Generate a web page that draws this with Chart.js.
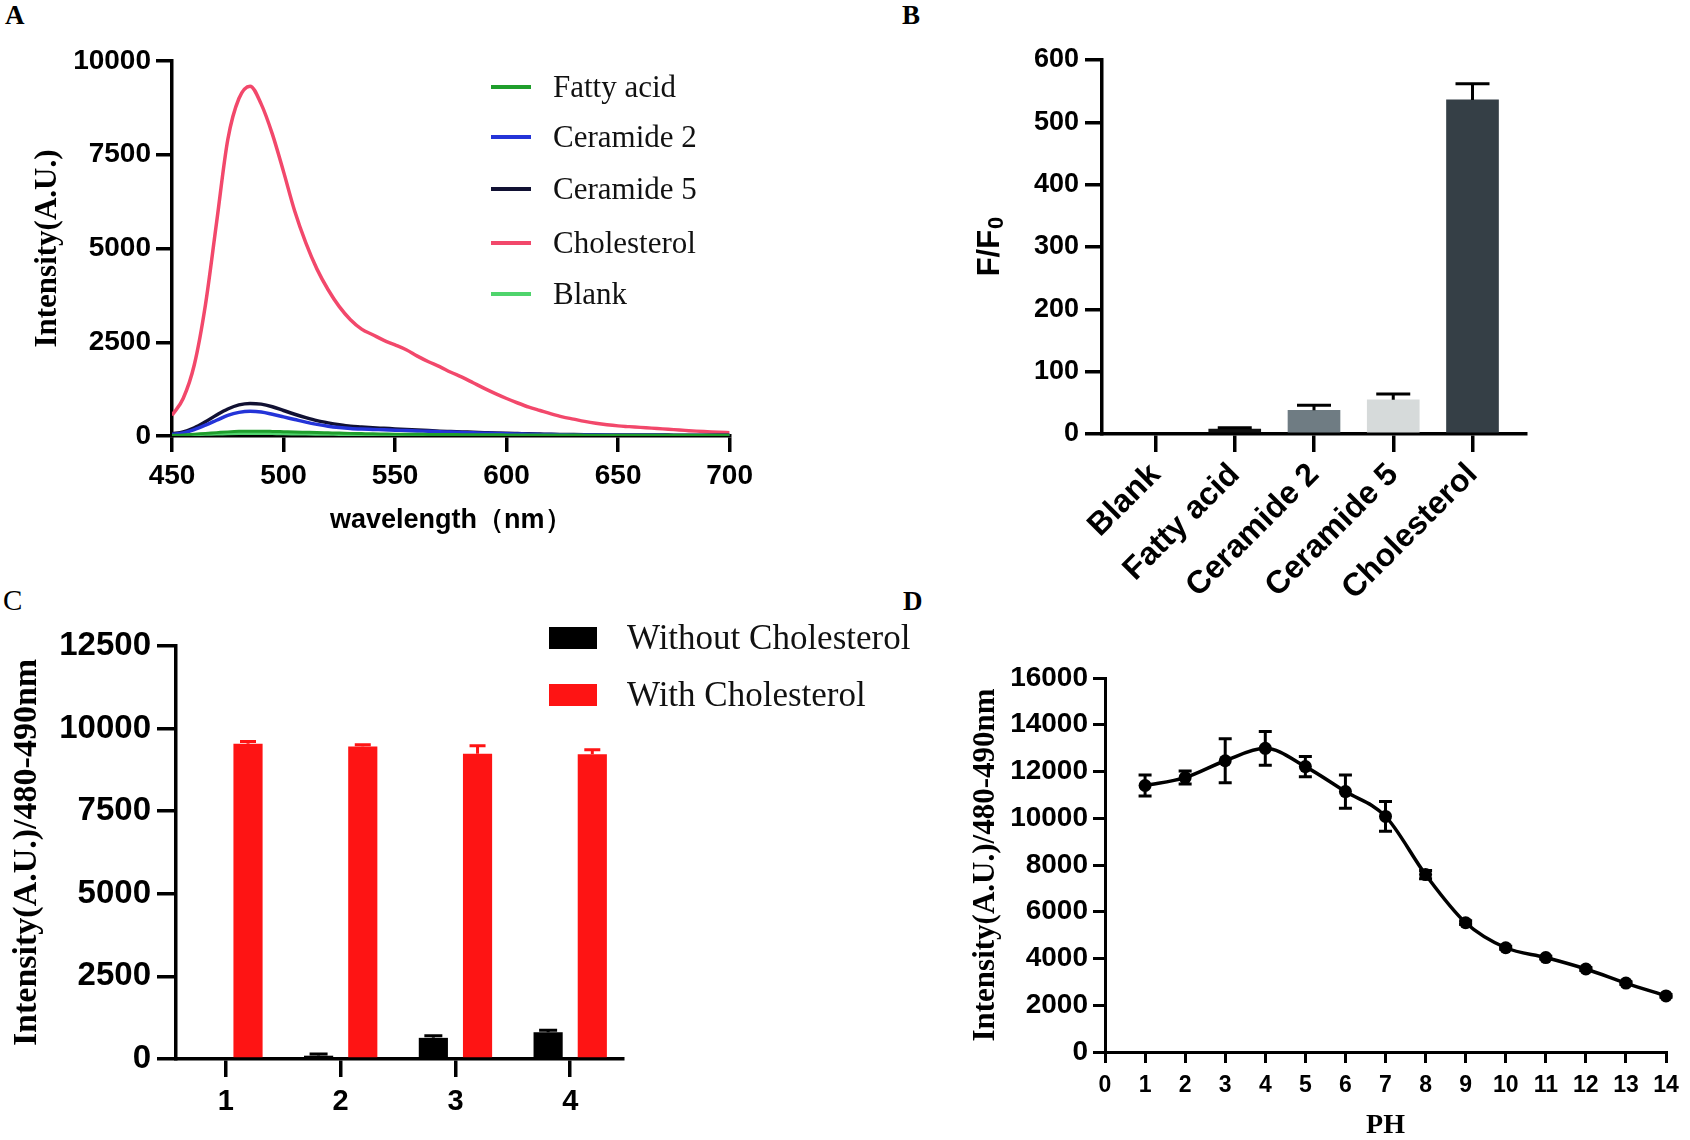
<!DOCTYPE html>
<html>
<head>
<meta charset="utf-8">
<script src="https://cdn.jsdelivr.net/npm/chart.js@4.4.1/dist/chart.umd.min.js"></script>
<style>
  html, body { margin: 0; padding: 0; background: #fff; width: 1690px; height: 1140px; overflow: hidden; }
  canvas { position: absolute; }
  .lbl { position: absolute; font-family: 'Liberation Serif', serif; color: #000; white-space: nowrap; }
  .leg { position: absolute; font-family: 'Liberation Serif', serif; color: #111; white-space: nowrap; }
  .sw { position: absolute; }
</style>
</head>
<body>
<div class="lbl" style="left:5px;top:0px;font-size:27px;font-weight:bold;line-height:30px;">A</div>
<div class="lbl" style="left:902px;top:0px;font-size:27px;font-weight:bold;line-height:30px;">B</div>
<div class="lbl" style="left:3px;top:584px;font-size:29px;line-height:32px;">C</div>
<div class="lbl" style="left:903px;top:586px;font-size:27px;font-weight:bold;line-height:30px;">D</div>
<canvas id="cA" width="760" height="545" style="left:0px;top:0px;"></canvas>
<canvas id="cB" width="620" height="610" style="left:940px;top:0px;"></canvas>
<canvas id="cC" width="900" height="540" style="left:0px;top:600px;"></canvas>
<canvas id="cD" width="730" height="500" style="left:960px;top:640px;"></canvas>
<div id="legA"></div>
<div id="legC"></div>
<script>
// ---------------- DATA ----------------
// Panel A: fluorescence spectra
const wavelengths = [450,455,460,465,470,475,480,485,490,495,500,505,510,515,520,525,530,535,540,545,550,555,560,565,570,575,580,585,590,595,600,605,610,615,620,625,630,635,640,645,650,655,660,665,670,675,680,685,690,695,700];
const fattyAcid   = [20,30,50,70,90,110,125,130,128,122,115,108,100,92,85,78,70,64,58,54,50,47,45,42,40,38,36,34,32,31,30,29,28,27,26,25,24,23,22,22,22,21,21,20,20,20,19,19,18,18,18];
const ceramide2   = [40,80,170,290,420,550,630,660,640,580,510,440,370,310,260,225,200,185,175,165,155,145,135,125,115,105,95,85,75,68,60,54,48,43,38,34,30,28,26,24,22,20,19,18,17,16,15,14,13,12,12];
const ceramide5   = [60,110,220,380,560,720,830,870,850,780,680,580,490,410,350,300,260,240,220,205,190,175,160,145,130,120,110,100,90,80,72,65,58,52,46,42,38,35,32,30,28,27,26,25,24,23,22,21,21,20,20];
const cholesterol = [550,1000,1900,3500,5700,7900,9000,9330,8850,8050,7050,6000,5150,4450,3900,3450,3100,2850,2700,2550,2430,2300,2130,1980,1850,1700,1570,1420,1270,1130,1000,880,770,680,590,510,450,390,340,300,270,250,230,210,190,170,150,130,115,100,90];
const blank       = [15,25,35,45,50,60,66,70,68,64,60,55,50,47,45,42,40,37,35,32,30,28,27,26,25,24,23,22,21,21,20,20,19,19,18,18,18,17,17,17,16,16,16,16,15,15,15,15,15,15,15];
const spectraLabels = ['Fatty acid','Ceramide 2','Ceramide 5','Cholesterol','Blank'];
const spectraColors = ['#1f9e2c','#2434d8','#111133','#f2486b','#4fd46c'];

// Panel B: F/F0
const bCategories = ['Blank','Fatty acid','Ceramide 2','Ceramide 5','Cholesterol'];
const bValues = [0, 8, 38, 55, 536];
const bErrors = [0, 2, 8, 9, 26];
const bColors = ['#000000','#111111','#6f7c83','#d6dada','#353f46'];

// Panel C: with / without cholesterol
const cCategories = [1, 2, 3, 4];
const cWithout = [10, 100, 640, 810];
const cWithoutErr = [0, 50, 60, 60];
const cWith = [9540, 9460, 9240, 9220];
const cWithErr = [70, 50, 240, 140];
const cLabels = ['Without Cholesterol','With Cholesterol'];
const cColors = ['#000000','#fe1414'];

// Panel D: pH dependence
const pH = [1,2,3,4,5,6,7,8,9,10,11,12,13,14];
const dValues = [11400, 11740, 12460, 12990, 12210, 11140, 10080, 7590, 5530, 4460, 4040, 3550, 2950, 2400];
const dErrors = [450, 280, 940, 720, 430, 710, 640, 180, 80, 60, 60, 60, 60, 60];

// ---------------- HELPERS ----------------
Chart.defaults.font.family = "'Liberation Sans', Arial, sans-serif";
Chart.defaults.color = '#000';
Chart.defaults.animation = false;

const errorBarPlugin = {
  id: 'errbars',
  afterDatasetsDraw(chart) {
    const ctx = chart.ctx;
    chart.data.datasets.forEach((ds, i) => {
      if (!ds.errors) return;
      const meta = chart.getDatasetMeta(i);
      const yScale = chart.scales[meta.yAxisID];
      meta.data.forEach((el, j) => {
        const err = ds.errors[j];
        if (!err) return;
        const d = ds.data[j];
        const val = (typeof d === 'object') ? d.y : d;
        const x = el.x;
        const yTop = yScale.getPixelForValue(val + err);
        const yBot = ds.errBoth ? yScale.getPixelForValue(val - err) : el.y;
        const cap = ds.errCap / 2;
        ctx.save();
        ctx.strokeStyle = ds.errColor;
        ctx.lineWidth = ds.errWidth;
        ctx.beginPath();
        ctx.moveTo(x, yBot); ctx.lineTo(x, yTop);
        ctx.moveTo(x - cap, yTop); ctx.lineTo(x + cap, yTop);
        if (ds.errBoth) { ctx.moveTo(x - cap, yBot); ctx.lineTo(x + cap, yBot); }
        ctx.stroke();
        ctx.restore();
      });
    });
  }
};

const plainNum = v => String(v);

function axisBase(tickLen, lw) {
  return {
    border: { display: true, color: '#000', width: lw },
    grid: { display: true, drawOnChartArea: false, drawTicks: true, tickLength: tickLen, color: '#000', lineWidth: lw, offset: false }
  };
}

function layoutFor(box, area) {
  return {
    padding: { left: 0, top: area.t - box.top, right: box.left + box.w - area.r, bottom: 0 }
  };
}

// ---------------- PANEL A ----------------
(function () {
  const box = { left: 0, top: 0, w: 760, h: 545 };
  const area = { l: 172, t: 61, r: 733, b: 436 };
  const series = [fattyAcid, ceramide2, ceramide5, cholesterol, blank];
  const widths = [3, 3.5, 3.5, 3.5, 3];
  new Chart(document.getElementById('cA'), {
    type: 'line',
    data: {
      datasets: series.map((s, k) => ({
        label: spectraLabels[k],
        data: wavelengths.map((w, i) => ({ x: w, y: s[i] })),
        borderColor: spectraColors[k],
        borderWidth: widths[k],
        pointRadius: 0,
        cubicInterpolationMode: 'monotone',
        fill: false
      }))
    },
    options: {
      responsive: false,
      layout: layoutFor(box, area),
      plugins: { legend: { display: false }, tooltip: { enabled: false } },
      scales: {
        x: Object.assign(axisBase(16, 3.5), {
          type: 'linear', min: 450, max: 700,
          ticks: { stepSize: 50, padding: 7, font: { size: 28, weight: 'bold' }, color: '#000', maxRotation: 0, callback: plainNum },
          title: { display: true, text: 'wavelength（nm）', font: { size: 27, weight: 'bold', lineHeight: 1 }, color: '#000', padding: { top: 0, bottom: 11 } },
          afterFit: s => { s.height = box.top + box.h - area.b; }
        }),
        y: Object.assign(axisBase(16, 3.5), {
          min: 0, max: 10000,
          ticks: { stepSize: 2500, padding: 5, font: { size: 28, weight: 'bold' }, color: '#000', callback: plainNum },
          title: { display: true, text: 'Intensity(A.U.)', font: { family: "'Liberation Serif', serif", size: 31, weight: 'bold', lineHeight: 1 }, color: '#000', padding: { top: 32, bottom: 0 } },
          afterFit: s => { s.width = area.l - box.left; }
        })
      }
    }
  });
  // HTML legend
  const rows = [87, 137, 189, 243, 294];
  const leg = document.getElementById('legA');
  spectraLabels.forEach((lab, k) => {
    const sw = document.createElement('div');
    sw.className = 'sw';
    sw.style.cssText = `left:491px;top:${rows[k] - 2}px;width:40px;height:4px;background:${spectraColors[k]};`;
    leg.appendChild(sw);
    const t = document.createElement('div');
    t.className = 'leg';
    t.style.cssText = `left:553px;top:${rows[k] - 18}px;height:36px;line-height:36px;font-size:31px;`;
    t.textContent = lab;
    leg.appendChild(t);
  });
})();

// ---------------- PANEL B ----------------
(function () {
  const box = { left: 940, top: 0, w: 620, h: 610 };
  const area = { l: 1102, t: 60, r: 1526, b: 434 };
  // y title "F/F0" with subscript 0
  const fTitle = {
    id: 'fTitle',
    afterDraw(chart) {
      const ctx = chart.ctx;
      ctx.save();
      ctx.translate(990 - box.left, (area.t + area.b) / 2 - box.top);
      ctx.rotate(-Math.PI / 2);
      ctx.fillStyle = '#000';
      ctx.textBaseline = 'middle';
      ctx.textAlign = 'left';
      const big = "bold 31px 'Liberation Sans', Arial, sans-serif";
      const small = "bold 22px 'Liberation Sans', Arial, sans-serif";
      ctx.font = big; const w1 = ctx.measureText('F/F').width;
      ctx.font = small; const w2 = ctx.measureText('0').width;
      const x0 = -(w1 + w2) / 2;
      ctx.font = big; ctx.fillText('F/F', x0, 0);
      ctx.font = small; ctx.fillText('0', x0 + w1 + 1, 7);
      ctx.restore();
    }
  };
  new Chart(document.getElementById('cB'), {
    type: 'bar',
    data: {
      datasets: [{
        label: 'F/F0',
        data: bValues.map((v, i) => ({ x: i, y: v })),
        backgroundColor: bColors,
        barThickness: 52,
        errors: bErrors, errBoth: false, errColor: '#000', errWidth: 3, errCap: 34
      }]
    },
    options: {
      responsive: false,
      layout: layoutFor(box, area),
      plugins: { legend: { display: false }, tooltip: { enabled: false } },
      scales: {
        x: Object.assign(axisBase(18, 3.5), {
          type: 'linear', min: -0.675, max: 4.675, offset: false,
          afterBuildTicks: s => { s.ticks = bCategories.map((c, i) => ({ value: i })); },
          ticks: { padding: 4, autoSkip: false, font: { size: 32, weight: 'bold' }, color: '#000', minRotation: 45, maxRotation: 45,
                   callback: v => bCategories[v] },
          afterFit: s => { s.height = box.top + box.h - area.b; }
        }),
        y: Object.assign(axisBase(17, 3.5), {
          min: 0, max: 600,
          ticks: { stepSize: 100, padding: 6, font: { size: 27, weight: 'bold' }, color: '#000', callback: plainNum },
          afterFit: s => { s.width = area.l - box.left; }
        })
      }
    },
    plugins: [errorBarPlugin, fTitle]
  });
})();

// ---------------- PANEL C ----------------
(function () {
  const box = { left: 0, top: 600, w: 900, h: 540 };
  const area = { l: 176, t: 646, r: 623, b: 1059 };
  new Chart(document.getElementById('cC'), {
    type: 'bar',
    data: {
      datasets: [
        { label: cLabels[0], data: cCategories.map((c, i) => ({ x: c, y: cWithout[i] })), backgroundColor: cColors[0],
          categoryPercentage: 0.77, barPercentage: 0.66,
          errors: cWithoutErr, errBoth: false, errColor: cColors[0], errWidth: 3, errCap: 18 },
        { label: cLabels[1], data: cCategories.map((c, i) => ({ x: c, y: cWith[i] })), backgroundColor: cColors[1],
          categoryPercentage: 0.77, barPercentage: 0.66,
          errors: cWithErr, errBoth: false, errColor: cColors[1], errWidth: 3, errCap: 16 }
      ]
    },
    options: {
      responsive: false,
      layout: layoutFor(box, area),
      plugins: { legend: { display: false }, tooltip: { enabled: false } },
      scales: {
        x: Object.assign(axisBase(18, 3.5), {
          type: 'linear', min: 0.565, max: 4.46, offset: false,
          afterBuildTicks: s => { s.ticks = cCategories.map(c => ({ value: c })); },
          ticks: { padding: 8, font: { size: 29, weight: 'bold' }, color: '#000', maxRotation: 0, callback: v => String(v) },
          afterFit: s => { s.height = box.top + box.h - area.b; }
        }),
        y: Object.assign(axisBase(19, 3.5), {
          min: 0, max: 12500,
          ticks: { stepSize: 2500, padding: 6, font: { size: 33, weight: 'bold' }, color: '#000', callback: plainNum },
          title: { display: true, text: 'Intensity(A.U.)/480-490nm', font: { family: "'Liberation Serif', serif", size: 34, weight: 'bold', lineHeight: 1 }, color: '#000', padding: { top: 10, bottom: 0 } },
          afterFit: s => { s.width = area.l - box.left; }
        })
      }
    },
    plugins: [errorBarPlugin]
  });
  const rows = [638, 695];
  const leg = document.getElementById('legC');
  cLabels.forEach((lab, k) => {
    const sw = document.createElement('div');
    sw.className = 'sw';
    sw.style.cssText = `left:549px;top:${rows[k] - 11}px;width:48px;height:22px;background:${cColors[k]};`;
    leg.appendChild(sw);
    const t = document.createElement('div');
    t.className = 'leg';
    t.style.cssText = `left:627px;top:${rows[k] - 20}px;height:40px;line-height:40px;font-size:35px;`;
    t.textContent = lab;
    leg.appendChild(t);
  });
})();

// ---------------- PANEL D ----------------
(function () {
  const box = { left: 960, top: 640, w: 730, h: 500 };
  const area = { l: 1105, t: 678, r: 1666, b: 1052 };
  new Chart(document.getElementById('cD'), {
    type: 'line',
    data: {
      datasets: [{
        label: 'Intensity',
        data: pH.map((p, i) => ({ x: p, y: dValues[i] })),
        borderColor: '#000', backgroundColor: '#000',
        borderWidth: 3.5, pointRadius: 6.5, pointBackgroundColor: '#000', pointBorderWidth: 0,
        cubicInterpolationMode: 'monotone', fill: false, clip: false,
        errors: dErrors, errBoth: true, errColor: '#000', errWidth: 3, errCap: 13
      }]
    },
    options: {
      responsive: false,
      layout: layoutFor(box, area),
      plugins: { legend: { display: false }, tooltip: { enabled: false } },
      scales: {
        x: Object.assign(axisBase(11, 3), {
          type: 'linear', min: 0, max: 14,
          ticks: { stepSize: 1, padding: 9, autoSkip: false, font: { size: 23, weight: 'bold' }, color: '#000', maxRotation: 0, callback: plainNum },
          title: { display: true, text: 'PH', font: { family: "'Liberation Serif', serif", size: 28, weight: 'bold', lineHeight: 1 }, color: '#000', padding: { top: 0, bottom: 0 } },
          afterFit: s => { s.height = box.top + box.h - area.b; }
        }),
        y: Object.assign(axisBase(12, 3), {
          min: 0, max: 16000,
          ticks: { stepSize: 2000, padding: 5, font: { size: 28, weight: 'bold' }, color: '#000', callback: plainNum },
          title: { display: true, text: 'Intensity(A.U.)/480-490nm', font: { family: "'Liberation Serif', serif", size: 31, weight: 'bold', lineHeight: 1 }, color: '#000', padding: { top: 10, bottom: 0 } },
          afterFit: s => { s.width = area.l - box.left; }
        })
      }
    },
    plugins: [errorBarPlugin]
  });
})();
</script>
</body>
</html>
